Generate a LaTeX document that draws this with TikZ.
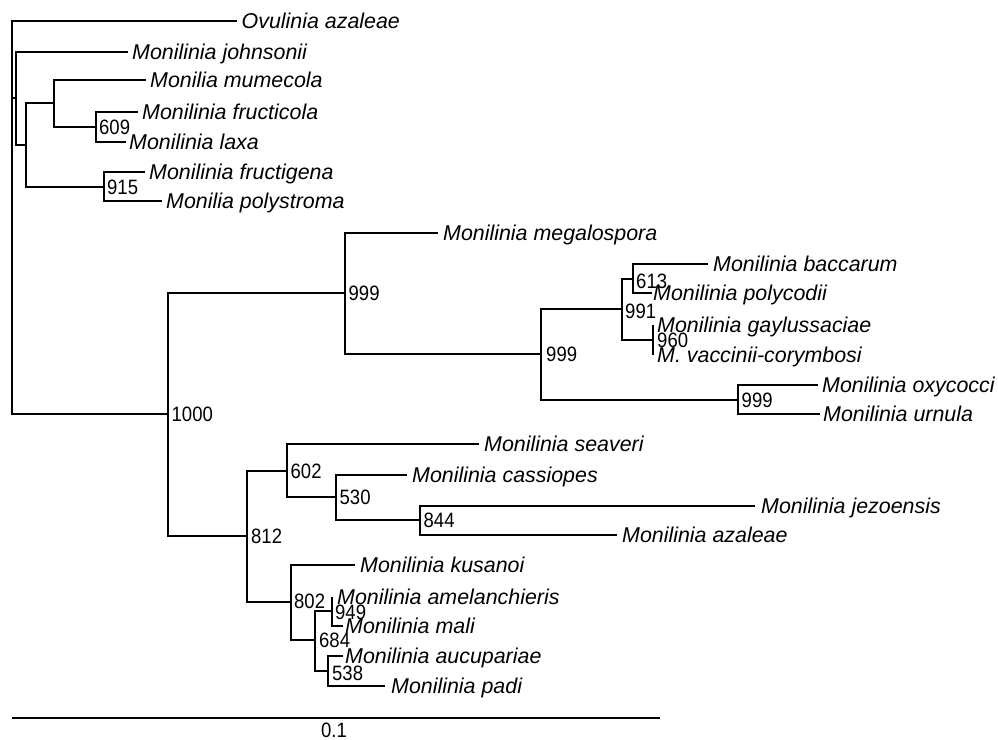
\documentclass[tikz,border=0pt]{standalone}
\usepackage{fontspec}
\setmainfont{Liberation Sans}
\newfontfamily\numfam[FakeStretch=0.89]{Liberation Sans}
\newcommand\spfont{\fontsize{21.4}{24}\selectfont\itshape}
\newcommand\numfont{\numfam\fontsize{20.8}{23}\selectfont}
\begin{document}
\begin{tikzpicture}[x=1pt,y=-1pt,
  br/.style={line width=2.3pt},
  leaf/.style={anchor=base west, inner sep=0pt, font=\spfont},
  bs/.style={anchor=west, inner sep=0pt, font=\numfont}]
\useasboundingbox (0,0) rectangle (998,739);
% internal nodes and tips
\coordinate (R) at (12,217);
\coordinate (tOv) at (237,20.7);
\coordinate (A) at (16,98);
\coordinate (tJo) at (128,52);
\coordinate (C) at (26,145);
\coordinate (D) at (54,103);
\coordinate (tMu) at (146,80);
\coordinate (F) at (96,127);
\coordinate (tFr) at (138,112);
\coordinate (tLa) at (126,142);
\coordinate (E) at (104,187);
\coordinate (tFg) at (145,172);
\coordinate (tPo) at (162,201);
\coordinate (B) at (168,414);
\coordinate (G) at (345,293);
\coordinate (tMe) at (438,233);
\coordinate (I) at (541,354);
\coordinate (J) at (622,309);
\coordinate (L) at (633,279);
\coordinate (tBa) at (708,264);
\coordinate (tPc) at (652,293);
\coordinate (M) at (653,340);
\coordinate (tGa) at (653,325);
\coordinate (tVa) at (653,355);
\coordinate (K) at (738,400);
\coordinate (tOx) at (818,385);
\coordinate (tUr) at (820,414);
\coordinate (H) at (247,536);
\coordinate (N) at (287,471);
\coordinate (tSe) at (479,444);
\coordinate (P) at (336,497);
\coordinate (tCa) at (407,475);
\coordinate (Q) at (420,520);
\coordinate (tJe) at (755,506);
\coordinate (tAz) at (617,535);
\coordinate (O) at (291,602);
\coordinate (tKu) at (355,565);
\coordinate (S) at (315,640);
\coordinate (T) at (332,611);
\coordinate (tAm) at (332,597);
\coordinate (tMa) at (343,626);
\coordinate (U) at (328,671);
\coordinate (tAu) at (343,656);
\coordinate (tPa) at (385,686);
% branches
\draw[br] (R) |- (tOv);
\draw[br] (R) |- (A);
\draw[br] (R) |- (B);
\draw[br] (A) |- (tJo);
\draw[br] (A) |- (C);
\draw[br] (C) |- (D);
\draw[br] (C) |- (E);
\draw[br] (D) |- (tMu);
\draw[br] (D) |- (F);
\draw[br] (F) |- (tFr);
\draw[br] (F) |- (tLa);
\draw[br] (E) |- (tFg);
\draw[br] (E) |- (tPo);
\draw[br] (B) |- (G);
\draw[br] (B) |- (H);
\draw[br] (G) |- (tMe);
\draw[br] (G) |- (I);
\draw[br] (I) |- (J);
\draw[br] (I) |- (K);
\draw[br] (J) |- (L);
\draw[br] (J) |- (M);
\draw[br] (L) |- (tBa);
\draw[br] (L) |- (tPc);
\draw[br] (M) |- (tGa);
\draw[br] (M) |- (tVa);
\draw[br] (K) |- (tOx);
\draw[br] (K) |- (tUr);
\draw[br] (H) |- (N);
\draw[br] (H) |- (O);
\draw[br] (N) |- (tSe);
\draw[br] (N) |- (P);
\draw[br] (P) |- (tCa);
\draw[br] (P) |- (Q);
\draw[br] (Q) |- (tJe);
\draw[br] (Q) |- (tAz);
\draw[br] (O) |- (tKu);
\draw[br] (O) |- (S);
\draw[br] (S) |- (T);
\draw[br] (S) |- (U);
\draw[br] (T) |- (tAm);
\draw[br] (T) |- (tMa);
\draw[br] (U) |- (tAu);
\draw[br] (U) |- (tPa);
% leaf labels
\node[leaf] (lOv) at ([shift={(4.5,7.7)}]tOv) {Ovulinia azaleae};
\node[leaf] (lJo) at ([shift={(4,7.7)}]tJo) {Monilinia johnsonii};
\node[leaf] (lMu) at ([shift={(4,7.7)}]tMu) {Monilia mumecola};
\node[leaf] (lFr) at ([shift={(4,7.7)}]tFr) {Monilinia fructicola};
\node[leaf] (lLa) at ([shift={(3,7.7)}]tLa) {Monilinia laxa};
\node[leaf] (lFg) at ([shift={(4,7.7)}]tFg) {Monilinia fructigena};
\node[leaf] (lPo) at ([shift={(4,7.7)}]tPo) {Monilia polystroma};
\node[leaf] (lMe) at ([shift={(5,7.7)}]tMe) {Monilinia megalospora};
\node[leaf] (lBa) at ([shift={(5,7.7)}]tBa) {Monilinia baccarum};
\node[leaf] (lPc) at ([shift={(1,7.7)}]tPc) {Monilinia polycodii};
\node[leaf] (lGa) at ([shift={(4,7.7)}]tGa) {Monilinia gaylussaciae};
\node[leaf] (lVa) at ([shift={(4,7.7)}]tVa) {M. vaccinii-corymbosi};
\node[leaf] (lOx) at ([shift={(4,7.7)}]tOx) {Monilinia oxycocci};
\node[leaf] (lUr) at ([shift={(3,7.7)}]tUr) {Monilinia urnula};
\node[leaf] (lSe) at ([shift={(5,7.7)}]tSe) {Monilinia seaveri};
\node[leaf] (lCa) at ([shift={(5,7.7)}]tCa) {Monilinia cassiopes};
\node[leaf] (lJe) at ([shift={(6,7.7)}]tJe) {Monilinia jezoensis};
\node[leaf] (lAz) at ([shift={(5,7.7)}]tAz) {Monilinia azaleae};
\node[leaf] (lKu) at ([shift={(5,7.7)}]tKu) {Monilinia kusanoi};
\node[leaf] (lAm) at ([shift={(5,7.7)}]tAm) {Monilinia amelanchieris};
\node[leaf] (lMa) at ([shift={(2,7.7)}]tMa) {Monilinia mali};
\node[leaf] (lAu) at ([shift={(2,7.7)}]tAu) {Monilinia aucupariae};
\node[leaf] (lPa) at ([shift={(6,7.7)}]tPa) {Monilinia padi};
% support values
\node[bs] (bB) at ([xshift=3.5]B) {1000};
\node[bs] (bG) at ([xshift=3.5]G) {999};
\node[bs] (bI) at ([xshift=5]I) {999};
\node[bs] (bJ) at ([shift={(3,2)}]J) {991};
\node[bs] (bL) at ([shift={(3,2)}]L) {613};
\node[bs] (bM) at ([xshift=4]M) {960};
\node[bs] (bK) at ([xshift=3.5]K) {999};
\node[bs] (bF) at ([xshift=3]F) {609};
\node[bs] (bE) at ([xshift=3]E) {915};
\node[bs] (bH) at ([xshift=4]H) {812};
\node[bs] (bN) at ([xshift=3.5]N) {602};
\node[bs] (bP) at ([xshift=3.5]P) {530};
\node[bs] (bQ) at ([xshift=3.5]Q) {844};
\node[bs] (bO) at ([shift={(3,-1)}]O) {802};
\node[bs] (bS) at ([xshift=4]S) {684};
\node[bs] (bT) at ([shift={(3,1)}]T) {949};
\node[bs] (bU) at ([shift={(4,2)}]U) {538};
% scale bar
\coordinate (s1) at (12,718);
\coordinate (s2) at (660,718);
\draw[br] (s1) -- (s2);
\node[font=\numfont, inner sep=0pt] (sl) at (334,730.5) {0.1};
\end{tikzpicture}
\end{document}
